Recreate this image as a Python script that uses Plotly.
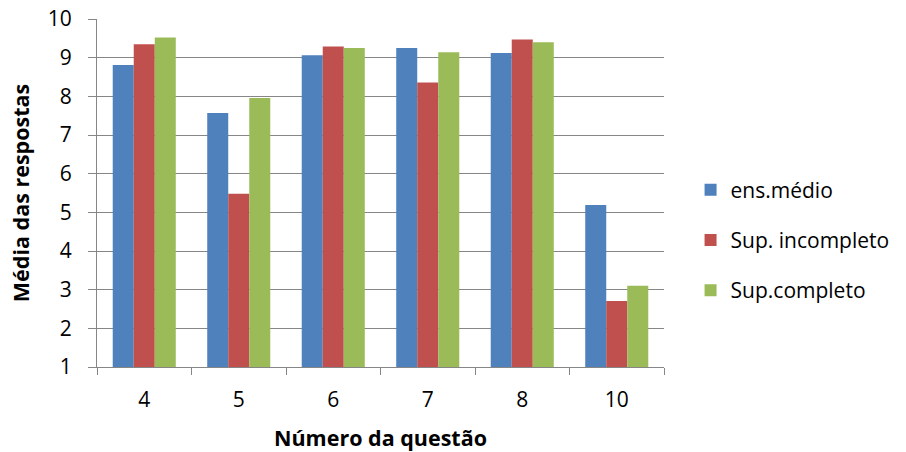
import plotly.graph_objects as go

questoes = ["4", "5", "6", "7", "8", "10"]
ens_medio = [8.81, 7.57, 9.06, 9.25, 9.12, 5.19]
sup_incompleto = [9.35, 5.48, 9.29, 8.36, 9.47, 2.71]
sup_completo = [9.52, 7.96, 9.25, 9.14, 9.40, 3.10]

series = [
    ("ens.médio", ens_medio, "#4F81BD"),
    ("Sup. incompleto", sup_incompleto, "#C0504D"),
    ("Sup.completo", sup_completo, "#9BBB59"),
]

font_family = "'Open Sans', sans-serif"

fig = go.Figure()
for i, (name, vals, color) in enumerate(series):
    fig.add_trace(go.Bar(
        name=name, x=questoes, y=[v - 1 for v in vals], base=1,
        marker=dict(color=color, line=dict(width=0)),
        legendgroup=f"g{i}",
        hovertemplate="%{x}: %{customdata}<extra>" + name + "</extra>",
        customdata=vals,
    ))

axis_grey = "#868686"
fig.update_layout(
    width=906, height=452,
    margin=dict(l=97, r=241, t=19, b=85),
    plot_bgcolor="white", paper_bgcolor="white",
    barmode="group", bargap=0.333, bargroupgap=0,
    font=dict(family=font_family, size=21, color="#000000"),
    legend=dict(
        x=1.045, y=0.365, xanchor="left", yanchor="middle",
        font=dict(size=21), traceorder="grouped", tracegroupgap=20,
        itemwidth=30,
    ),
    xaxis=dict(
        type="category", showline=True, linecolor=axis_grey, linewidth=1,
        ticks="outside", ticklen=7, tickcolor=axis_grey, tickson="boundaries",
        showgrid=False, tickfont=dict(size=21), automargin=False,
        ticklabelstandoff=14,
        title=dict(text="<b>Número da questão</b>", font=dict(size=21.5), standoff=20),
    ),
    yaxis=dict(
        range=[1, 10], tickvals=list(range(1, 11)), showline=True,
        linecolor=axis_grey, linewidth=1, ticks="outside", ticklen=8,
        tickcolor=axis_grey, showgrid=True, gridcolor=axis_grey, gridwidth=1,
        tickfont=dict(size=21), zeroline=False, automargin=False,
        ticklabelstandoff=12,
        title=dict(text="<b>Média das respostas</b>", font=dict(size=21.5), standoff=12),
    ),
)

fig.write_html("out.html")
